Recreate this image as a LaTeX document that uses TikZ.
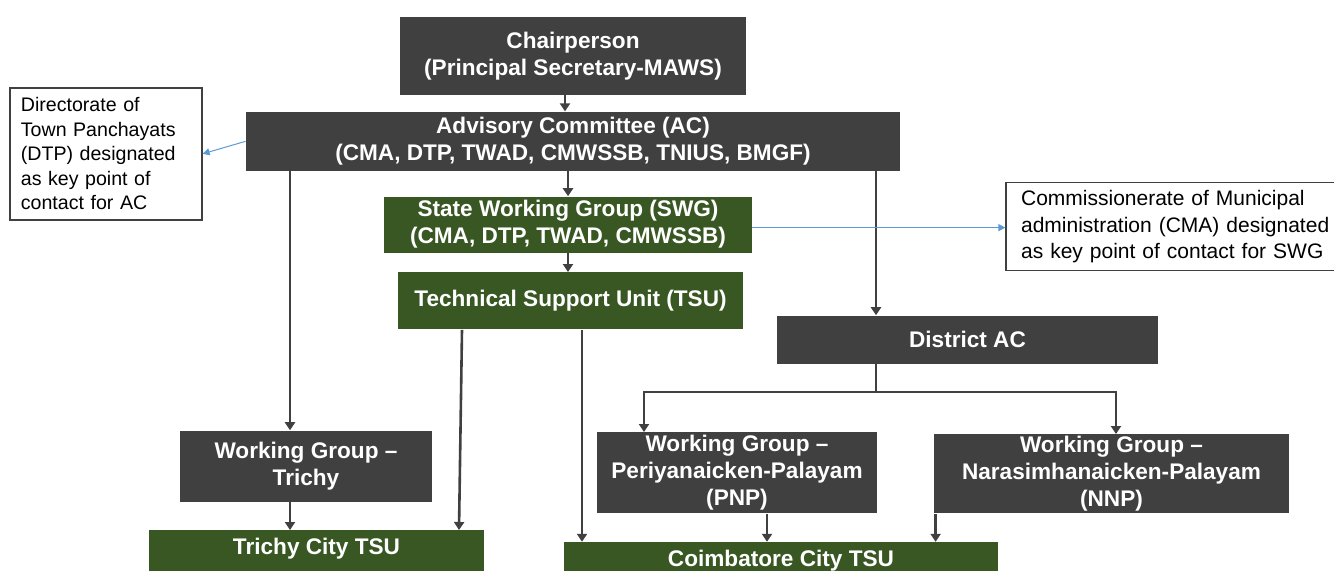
\documentclass[tikz,border=0pt]{standalone}
\usepackage{fontspec}
\setmainfont{Liberation Sans}
\usepackage{xcolor}
\usepackage{tikz}
\usetikzlibrary{arrows.meta, positioning}

\definecolor{boxgray}{HTML}{404040}
\definecolor{boxgreen}{HTML}{385723}
\definecolor{noteblue}{HTML}{5B9BD5}

\begin{document}
\begin{tikzpicture}[
    font=\bfseries\fontsize{11.3}{13.5}\selectfont,
    >={Triangle[length=4pt,width=5pt]},
    graybox/.style={
      fill=boxgray,
      text=white,
      align=center,
      inner sep=1pt
    },
    greenbox/.style={
      fill=boxgreen,
      text=white,
      align=center,
      inner sep=1pt
    },
    notebox/.style={
      draw=boxgray,
      line width=0.7pt,
      fill=white,
      align=left,
      font=\mdseries\fontsize{9.8}{12.25}\selectfont
    },
    arrow/.style={->, line width=1.3pt, draw=boxgray},
    notearrow/.style={-{Triangle[length=3.5pt,width=3.5pt]}, line width=0.5pt, draw=noteblue},
    node distance=8pt
]

\useasboundingbox (0,0) rectangle (667pt,-285pt);

% 1) Chairperson
\node[graybox, minimum width=173pt, minimum height=39pt] (chair) at (286.5pt,-28pt)
  {Chairperson\\(Principal Secretary-MAWS)};

% 2) Advisory committee
\node[graybox, below=8pt of chair, minimum width=327pt, minimum height=29.5pt] (ac)
  {Advisory Committee (AC)\\(CMA, DTP, TWAD, CMWSSB, TNIUS, BMGF)};

% 3) State working group
\node[greenbox, below=12.5pt of ac, xshift=-2.5pt, minimum width=184pt, minimum height=28pt] (swg)
  {State Working Group (SWG)\\(CMA, DTP, TWAD, CMWSSB)};

% 4) Technical support unit
\node[greenbox, below=9.5pt of swg, xshift=1.25pt, minimum width=172.5pt, minimum height=28.5pt] (tsu)
  {Technical Support Unit (TSU)};

% 5) District AC
\node[graybox, below=72pt of ac, xshift=197.25pt, minimum width=190.5pt, minimum height=24pt] (dac)
  {District AC};

% 6) Working group Trichy and its city TSU
\node[graybox, below=129.5pt of ac, xshift=-133.5pt, minimum width=126pt, minimum height=35.5pt] (wgt)
  {Working Group --\\Trichy};
\node[greenbox, below=14pt of wgt, xshift=5.25pt, minimum width=167.5pt, text height=11pt, text depth=10pt] (tct)
  {Trichy City TSU};

% 7) Working groups under district AC
\node[graybox, below=34pt of dac, xshift=-115.25pt, minimum width=140pt, minimum height=40.5pt] (pnp)
  {Working Group --\\Periyanaicken-Palayam\\(PNP)};
\node[graybox, below=35pt of dac, xshift=72pt, minimum width=177.5pt, minimum height=39.5pt] (nnp)
  {Working Group --\\Narasimhanaicken-Palayam\\(NNP)};

% 8) Coimbatore city TSU
\node[greenbox, below=14pt of pnp, xshift=22pt, minimum width=217pt, minimum height=18.5pt] (cct)
  {Coimbatore City TSU};

% 9) Side notes
\node[notebox, left=21.5pt of ac, yshift=-6.25pt, text width=85pt, inner xsep=5.5pt, minimum height=66pt] (dtp)
  {Directorate of\\Town Panchayats\\(DTP) designated\\as key point of\\contact for AC};
\node[notebox, right=126.5pt of swg, yshift=-1pt, text width=160pt, inner xsep=7.5pt, minimum height=44pt,
      font=\mdseries\fontsize{10.5}{13.3}\selectfont] (cma)
  {Commissionerate of Municipal\\administration (CMA) designated\\as key point of contact for SWG};

% ARROWS
% chain down the middle
\draw[arrow] ([xshift=-4pt]chair.south) -- ([xshift=-4pt]ac.north);
\draw[arrow] (ac.south -| swg.north) -- (swg.north);
\draw[arrow] (swg.south) -- (swg.south |- tsu.north);

% AC -> Trichy
\draw[arrow] ([xshift=-8pt]wgt.north |- ac.south) -- ([xshift=-8pt]wgt.north);
\draw[arrow] ([xshift=-8pt]wgt.south) -- ([xshift=-8pt]wgt.south |- tct.north);

% TSU -> city TSUs
\draw[arrow] ([xshift=-54.25pt]tsu.south) -- ([xshift=71.25pt]tct.north);
\draw[arrow] ([xshift=5.75pt]tsu.south) -- ([xshift=5.75pt]tsu.south |- cct.north);

% AC -> District AC -> working groups
\draw[arrow] ([xshift=-45.75pt]dac.north |- ac.south) -- ([xshift=-45.75pt]dac.north);
\draw[arrow] ([xshift=-45.75pt]dac.south) -- ++(0,-14pt) -| ([xshift=-46.5pt]pnp.north);
\draw[arrow] ([xshift=-45.75pt]dac.south) -- ++(0,-14pt) -| ([xshift=2.25pt]nnp.north);

% working groups -> Coimbatore
\draw[arrow] ([xshift=15pt]pnp.south) -- ([xshift=15pt]pnp.south |- cct.north);
\draw[arrow] ([xshift=1pt]nnp.south west) -- ([xshift=1pt]nnp.south west |- cct.north);

% note pointers
\draw[notearrow] (ac.west) -- (dtp.east);
\draw[notearrow] ([yshift=-1.5pt]swg.east) -- ([yshift=-1.5pt]swg.east -| cma.west);

\end{tikzpicture}
\end{document}
